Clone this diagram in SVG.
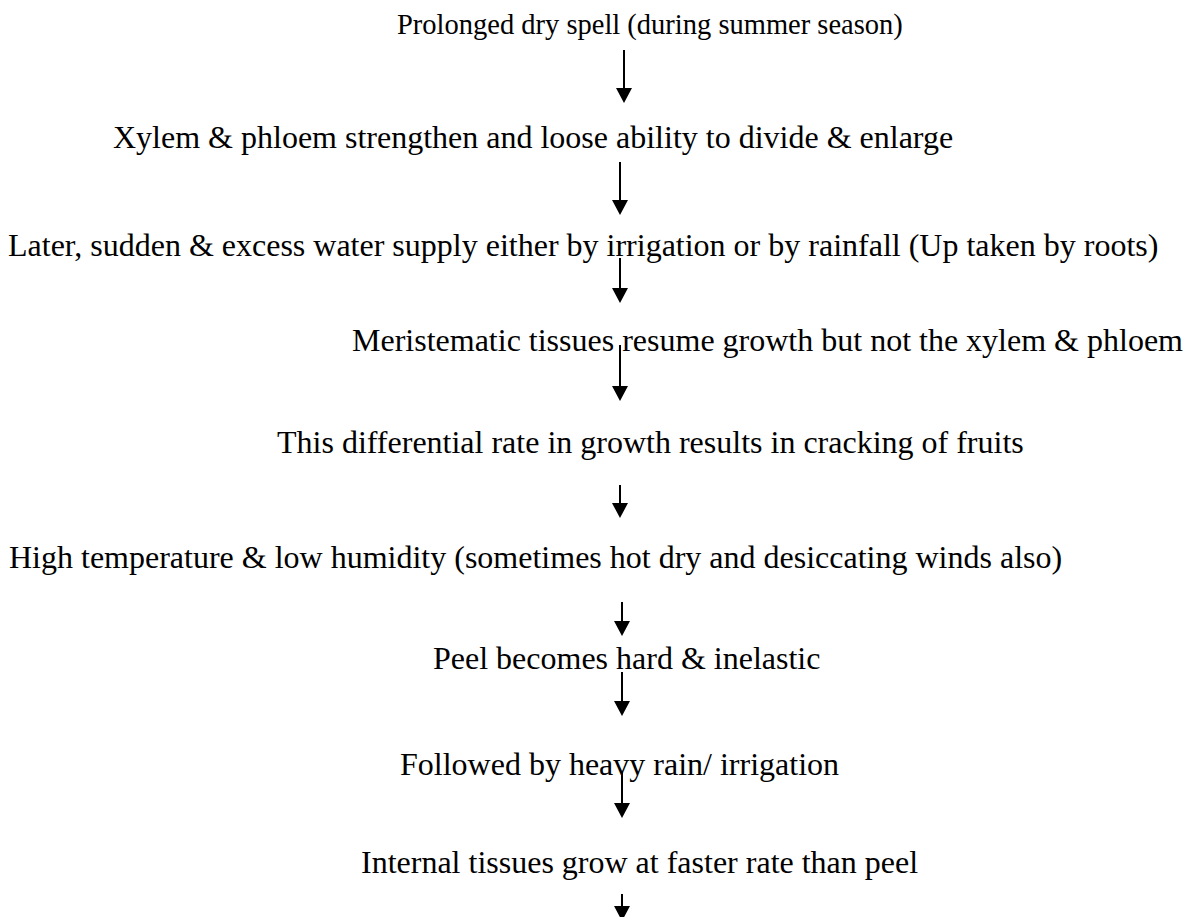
<svg xmlns="http://www.w3.org/2000/svg" width="1192" height="917" viewBox="0 0 1192 917">
<style>
text{font-family:"Liberation Serif","Times New Roman",serif;font-size:32px;fill:#000}
.c{stroke:#000;stroke-width:2;fill:none}
</style>
<defs>
<marker id="ah" markerUnits="userSpaceOnUse" markerWidth="16" markerHeight="16" refX="0" refY="8" orient="auto" viewBox="0 0 16 16">
<path d="M0,0 L15,8 L0,16 Z" fill="#000"/>
</marker>
</defs>
<rect width="1192" height="917" fill="#fff"/>
<g id="n1"><text x="397" y="34" style="font-size:28.5px">Prolonged dry spell (during summer season)</text></g>
<g id="n2"><text x="113" y="148">Xylem &amp; phloem strengthen and loose ability to divide &amp; enlarge</text></g>
<g id="n3"><text x="8" y="256">Later, sudden &amp; excess water supply either by irrigation or by rainfall (Up taken by roots)</text></g>
<g id="n4"><text x="352" y="351">Meristematic tissues resume growth but not the xylem &amp; phloem</text></g>
<g id="n5"><text x="277" y="453">This differential rate in growth results in cracking of fruits</text></g>
<g id="n6"><text x="9" y="568">High temperature &amp; low humidity (sometimes hot dry and desiccating winds also)</text></g>
<g id="n7"><text x="433" y="669">Peel becomes hard &amp; inelastic</text></g>
<g id="n8"><text x="400" y="775">Followed by heavy rain/ irrigation</text></g>
<g id="n9"><text x="361" y="873">Internal tissues grow at faster rate than peel</text></g>
<g id="connectors">
<path class="c" d="M624,50 V88" marker-end="url(#ah)"/>
<path class="c" d="M620,162 V200" marker-end="url(#ah)"/>
<path class="c" d="M620,258 V288" marker-end="url(#ah)"/>
<path class="c" d="M620,345 V386" marker-end="url(#ah)"/>
<path class="c" d="M620,485 V503" marker-end="url(#ah)"/>
<path class="c" d="M622,602 V621" marker-end="url(#ah)"/>
<path class="c" d="M622,672 V701" marker-end="url(#ah)"/>
<path class="c" d="M622,772 V803" marker-end="url(#ah)"/>
<path class="c" d="M622,894 V906" marker-end="url(#ah)"/>
</g>
</svg>
